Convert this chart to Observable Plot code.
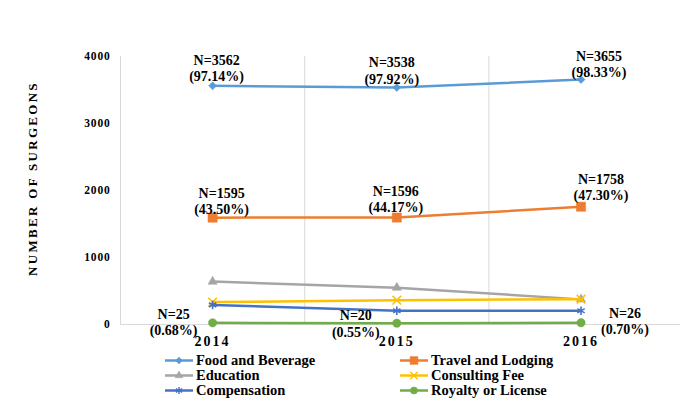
<!DOCTYPE html>
<html>
<head>
<meta charset="utf-8">
<script src="https://cdn.jsdelivr.net/npm/d3@7"></script>
<script src="https://cdn.jsdelivr.net/npm/@observablehq/plot@0.6"></script>
<style>
  body { margin: 0; background: #fff; }
  #chart { width: 680px; height: 409px; font-family: "Liberation Serif", "Times New Roman", serif; }
  #chart svg text { font-family: "Liberation Serif", "Times New Roman", serif; }
  g[aria-label="x-axis tick label"] text { letter-spacing: 2px; }
  g[aria-label="y-axis tick label"] text { letter-spacing: 0.8px; }
  #chart svg text.ytitle, g[aria-label="ytitle"] text, text[aria-label="ytitle"] { letter-spacing: 2.3px; }
  .legend { display: grid; grid-template-columns: 235px 240px; margin-left: 165px; padding-top: 2px;
            font-family: "Liberation Serif", "Times New Roman", serif; font-weight: bold; font-size: 14.5px; color: #000; }
  .legend .item { display: flex; align-items: center; height: 15px; line-height: 15px; white-space: nowrap; }
  .legend svg { margin-right: 2px; flex: none; }
</style>
</head>
<body>
<div id="chart"></div>
<script>
// ---- data ----
const years = [2014, 2015, 2016];
const seriesNames = ["Food and Beverage", "Travel and Lodging", "Education", "Consulting Fee", "Compensation", "Royalty or License"];
const food = [3562, 3538, 3655];
const foodPct = ["97.14%", "97.92%", "98.33%"];
const travel = [1595, 1596, 1758];
const travelPct = ["43.50%", "44.17%", "47.30%"];
const education = [640, 550, 375];
const consulting = [335, 362, 378];
const compensation = [292, 205, 205];
const royalty = [25, 20, 26];
const royaltyPct = ["0.68%", "0.55%", "0.70%"];
const yTicks = [0, 1000, 2000, 3000, 4000];
const yTitle = "NUMBER OF SURGEONS";

// ---- styles ----
const colors = ["#5B9BD5", "#ED7D31", "#A5A5A5", "#FFC000", "#4472C4", "#70AD47"];
const symbols = ["diamond2", "square", "triangle", "times", "asterisk", "circle"];
const radii = [3.6, 5.2, 3.4, 4, 4, 4.2];
const filled = [true, true, true, false, false, true];
// label offsets [dx, dy] per year
const labelOffsets = {
  "Food and Beverage": [[4, -18], [-5, -17], [18, -16]],
  "Travel and Lodging": [[9, -17], [-1, -19], [20, -20]],
  "Royalty or License": [[-39, -1], [-41, 0], [44, -2]]
};

const valuesBySeries = [food, travel, education, consulting, compensation, royalty];
const rows = seriesNames.flatMap((s, i) => years.map((yr, j) => ({series: s, year: yr, value: valuesBySeries[i][j]})));

const labelSets = [
  {series: "Food and Beverage", values: food, pct: foodPct},
  {series: "Travel and Lodging", values: travel, pct: travelPct},
  {series: "Royalty or License", values: royalty, pct: royaltyPct}
];

const xDomain = [years[0] - 0.5, years[years.length - 1] + 0.54];
const font = '"Liberation Serif", "Times New Roman", serif';

const marks = [
  Plot.ruleX(years.slice(0, -1).map(y => y + 0.5), {stroke: "#d9d9d9", strokeWidth: 1}),
  Plot.ruleX([xDomain[0]], {stroke: "#d9d9d9", strokeWidth: 1}),
  Plot.ruleY([0], {stroke: "#d9d9d9", strokeWidth: 1}),
  Plot.axisY({ticks: yTicks, tickFormat: d => String(d), tickSize: 0, tickPadding: 10, fontSize: 11.5, fontWeight: "bold", label: null}),
  Plot.axisX({ticks: years, tickFormat: d => String(d), tickSize: 0, tickPadding: 12, fontSize: 14, fontWeight: "bold", label: null})
];

seriesNames.forEach((s, i) => {
  const data = rows.filter(d => d.series === s);
  marks.push(Plot.line(data, {x: "year", y: "value", stroke: colors[i], strokeWidth: 2.5}));
  marks.push(Plot.dot(data, {
    x: "year", y: "value", symbol: () => symbols[i], r: radii[i],
    fill: filled[i] ? colors[i] : "none", stroke: colors[i], strokeWidth: filled[i] ? 0.5 : 1.6
  }));
});

labelSets.forEach(ls => {
  years.forEach((yr, j) => {
    const [dx, dy] = labelOffsets[ls.series][j];
    marks.push(Plot.text([{year: yr, value: ls.values[j], text: `N=${ls.values[j]}\n(${ls.pct[j]})`}], {
      x: "year", y: "value", text: "text", dx, dy, fontSize: 14, fontWeight: "bold",
      lineHeight: 1.18, fill: "#000", lineAnchor: "middle", textAnchor: "middle"
    }));
  });
});

marks.push(Plot.text([yTitle], {
  frameAnchor: "left", rotate: -90, dx: -88, dy: -12, fontSize: 13, fontWeight: "bold",
  textAnchor: "middle", lineAnchor: "middle", fill: "#000", className: "ytitle", ariaLabel: "ytitle"
}));

const chart = Plot.plot({
  width: 680, height: 351,
  marginTop: 56, marginBottom: 27, marginLeft: 120, marginRight: 0,
  style: {fontFamily: font, background: "white", color: "#000", overflow: "visible"},
  x: {type: "linear", domain: xDomain},
  y: {domain: [0, 4000]},
  marks
});
const root = document.getElementById("chart");
root.appendChild(chart);
// apply letter spacing to the rotated axis title
d3.select(chart).selectAll("text").filter(function() { return this.textContent === yTitle; })
  .style("letter-spacing", "2.3px");

// ---- legend ----
const d3sym = {diamond2: d3.symbolDiamond2, square: d3.symbolSquare, triangle: d3.symbolTriangle,
               times: d3.symbolTimes, asterisk: d3.symbolAsterisk, circle: d3.symbolCircle};
const legend = d3.select(root).append("div").attr("class", "legend");
seriesNames.forEach((s, i) => {
  const item = legend.append("div").attr("class", "item");
  const svg = item.append("svg").attr("width", 29).attr("height", 15);
  svg.append("line").attr("x1", 0).attr("x2", 28).attr("y1", 7.5).attr("y2", 7.5)
     .attr("stroke", colors[i]).attr("stroke-width", 2.5);
  const r = radii[i] * 0.85;
  svg.append("path").attr("transform", "translate(14,7.5)")
     .attr("d", d3.symbol(d3sym[symbols[i]], Math.PI * r * r)())
     .attr("fill", filled[i] ? colors[i] : "none").attr("stroke", colors[i])
     .attr("stroke-width", filled[i] ? 0.5 : 1.4);
  item.append("span").text(s);
});
</script>
</body>
</html>
